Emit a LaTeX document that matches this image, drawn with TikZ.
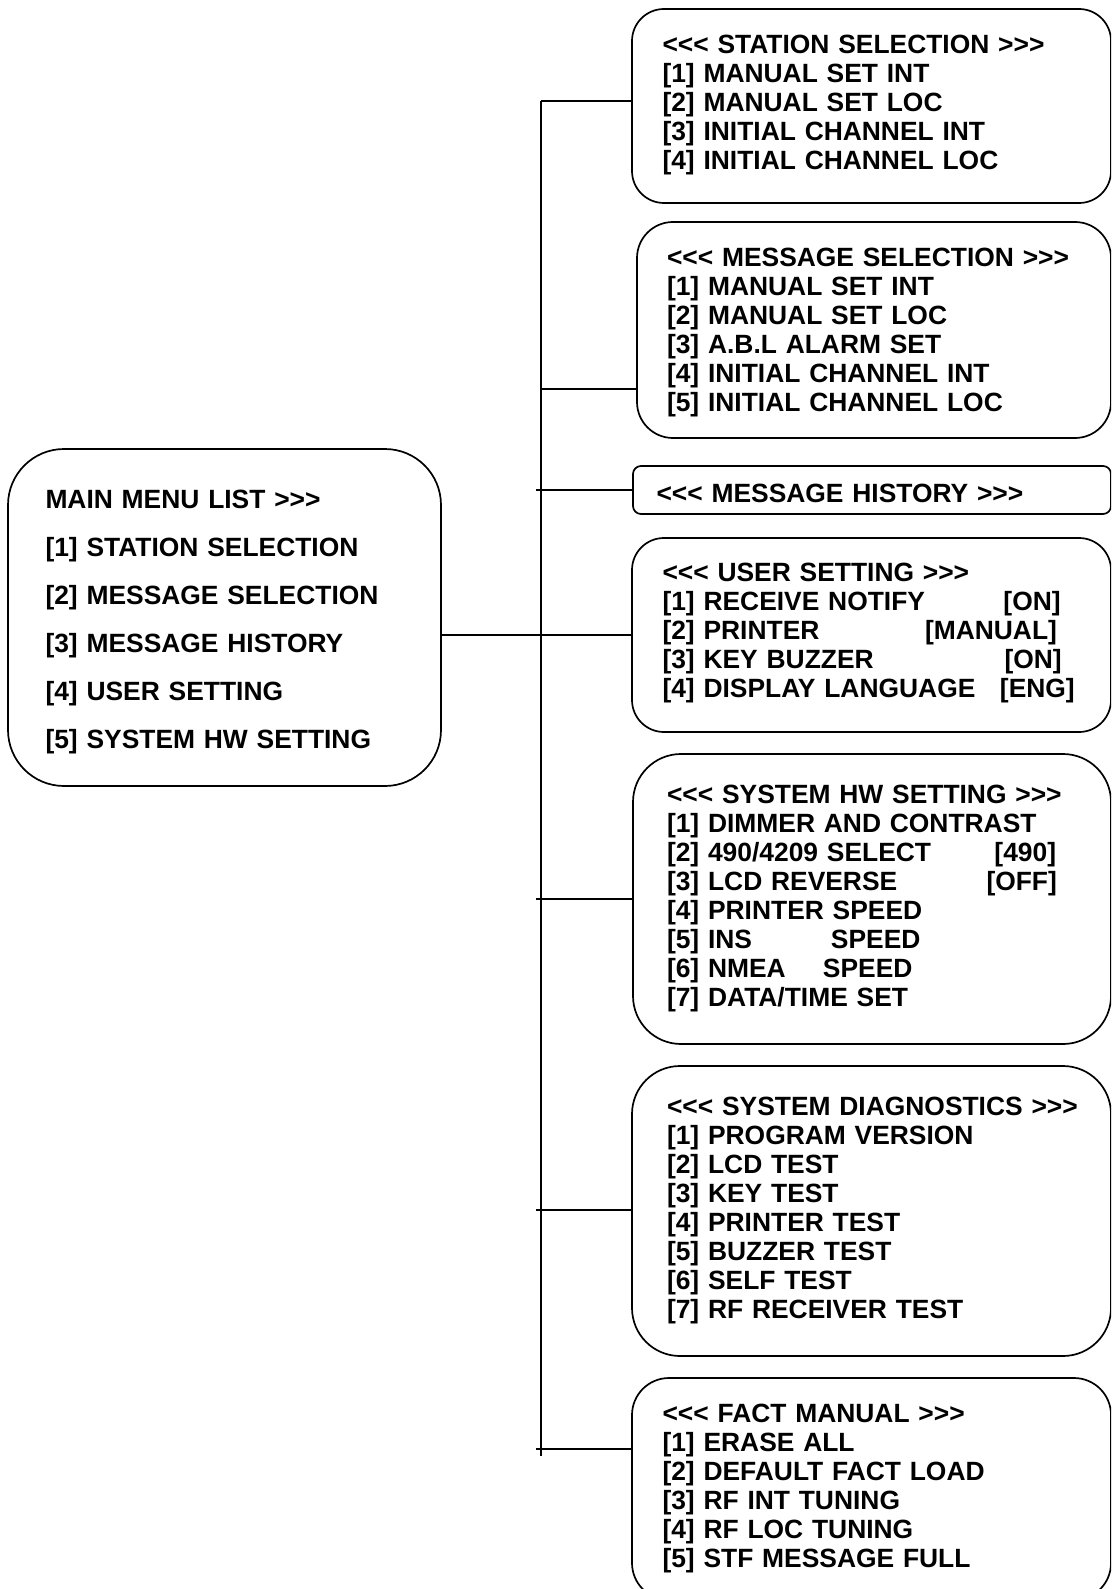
\documentclass[tikz,border=0pt]{standalone}
\usepackage{fontspec}
\newfontfamily\menufont{Liberation Sans}
\usetikzlibrary{positioning}

\begin{document}
\begin{tikzpicture}[
	x=1pt, y=-1pt,
	node distance=22pt,
	menubox/.style={draw, line width=1.7pt, rounded corners=56pt, align=left, inner sep=0pt, outer sep=0pt,
		font=\menufont\bfseries\fontsize{26.4pt}{48pt}\selectfont},
	subbox/.style={draw, line width=1.7pt, rounded corners=32pt, align=left, inner sep=0pt, outer sep=0pt,
		minimum width=479pt, text width=#1, font=\menufont\bfseries\fontsize{26.4pt}{29pt}\selectfont},
	subbox/.default=418pt,
	link/.style={line width=1.7pt}
]
\useasboundingbox (0,0) rectangle (1111,1589);
\clip (0,0) rectangle (1111,1589);

% main menu
\node[menubox, minimum width=433pt, minimum height=337pt, text width=358pt, anchor=north west] (main) at (8,449)
	{\rule{0pt}{27pt}MAIN MENU LIST >>>\\{}[1] STATION SELECTION\\{}[2] MESSAGE SELECTION\\{}[3] MESSAGE HISTORY\\{}[4] USER SETTING\\{}[5] SYSTEM HW SETTING};

% sub menus, right column
\node[subbox, minimum height=194pt, anchor=north east] (station) at (1111,9)
	{<<< STATION SELECTION >>>\\{}[1] MANUAL SET INT\\{}[2] MANUAL SET LOC\\{}[3] INITIAL CHANNEL INT\\{}[4] INITIAL CHANNEL LOC\rule[-8pt]{0pt}{8pt}};
\node[subbox=414pt, minimum width=474pt, minimum height=216pt, rounded corners=36pt, below=19pt of station.south east, anchor=north east] (msgsel)
	{\rule{0pt}{24pt}<<< MESSAGE SELECTION >>>\\{}[1] MANUAL SET INT\\{}[2] MANUAL SET LOC\\{}[3] A.B.L ALARM SET\\{}[4] INITIAL CHANNEL INT\\{}[5] INITIAL CHANNEL LOC};
\node[subbox=431pt, minimum width=478pt, minimum height=48pt, rounded corners=8pt, below=28pt of msgsel.south east, anchor=north east] (msghist)
	{\rule{0pt}{25.5pt}<<< MESSAGE HISTORY >>>};
\node[subbox, minimum height=194pt, below=24pt of msghist.south east, anchor=north east] (user)
	{<<< USER SETTING >>>\\
	\makebox[341pt][l]{[1] RECEIVE NOTIFY}[ON]\\
	\makebox[262.5pt][l]{[2] PRINTER}[MANUAL]\\
	\makebox[342pt][l]{[3] KEY BUZZER}[ON]\\
	\makebox[337.5pt][l]{[4] DISPLAY LANGUAGE}[ENG]\rule[-9pt]{0pt}{9pt}};
\node[subbox=410pt, minimum width=478pt, minimum height=290pt, rounded corners=48pt, below=of user.south east, anchor=north east] (syshw)
	{<<< SYSTEM HW SETTING >>>\\{}[1] DIMMER AND CONTRAST\\
	\makebox[327.5pt][l]{[2] 490/4209 SELECT}[490]\\
	\makebox[319.5pt][l]{[3] LCD REVERSE}[OFF]\\
	{}[4] PRINTER SPEED\\
	\makebox[164pt][l]{[5] INS}SPEED\\
	\makebox[156pt][l]{[6] NMEA}SPEED\\
	{}[7] DATA/TIME SET};
\node[subbox=409pt, minimum height=290pt, rounded corners=48pt, below=of syshw.south east, anchor=north east] (diag)
	{\mbox{<<< SYSTEM DIAGNOSTICS >>>}\\{}[1] PROGRAM VERSION\\{}[2] LCD TEST\\{}[3] KEY TEST\\{}[4] PRINTER TEST\\{}[5] BUZZER TEST\\{}[6] SELF TEST\\{}[7] RF RECEIVER TEST};
\node[subbox, minimum height=222pt, rounded corners=37pt, below=of diag.south east, anchor=north east] (fact)
	{<<< FACT MANUAL >>>\\{}[1] ERASE ALL\\{}[2] DEFAULT FACT LOAD\\{}[3] RF INT TUNING\\{}[4] RF LOC TUNING\\{}[5] STF MESSAGE FULL};

% bus and taps
\coordinate (bustop) at (541,101);
\coordinate (busend) at (541,1456);
\coordinate (seltap) at (541,389);
\coordinate (histtap) at (536,490);
\coordinate (hwtap) at (536,899);
\coordinate (diagtap) at (536,1210);
\coordinate (facttap) at (536,1449);

\draw[link] (bustop) -- (busend);
\draw[link] (main.east |- user.west) -- (user.west);
\draw[link] (bustop) -- (bustop -| station.west);
\draw[link] (seltap) -- (seltap -| msgsel.west);
\draw[link] (histtap) -- (histtap -| msghist.west);
\draw[link] (hwtap) -- (hwtap -| syshw.west);
\draw[link] (diagtap) -- (diagtap -| diag.west);
\draw[link] (facttap) -- (facttap -| fact.west);
\end{tikzpicture}
\end{document}
